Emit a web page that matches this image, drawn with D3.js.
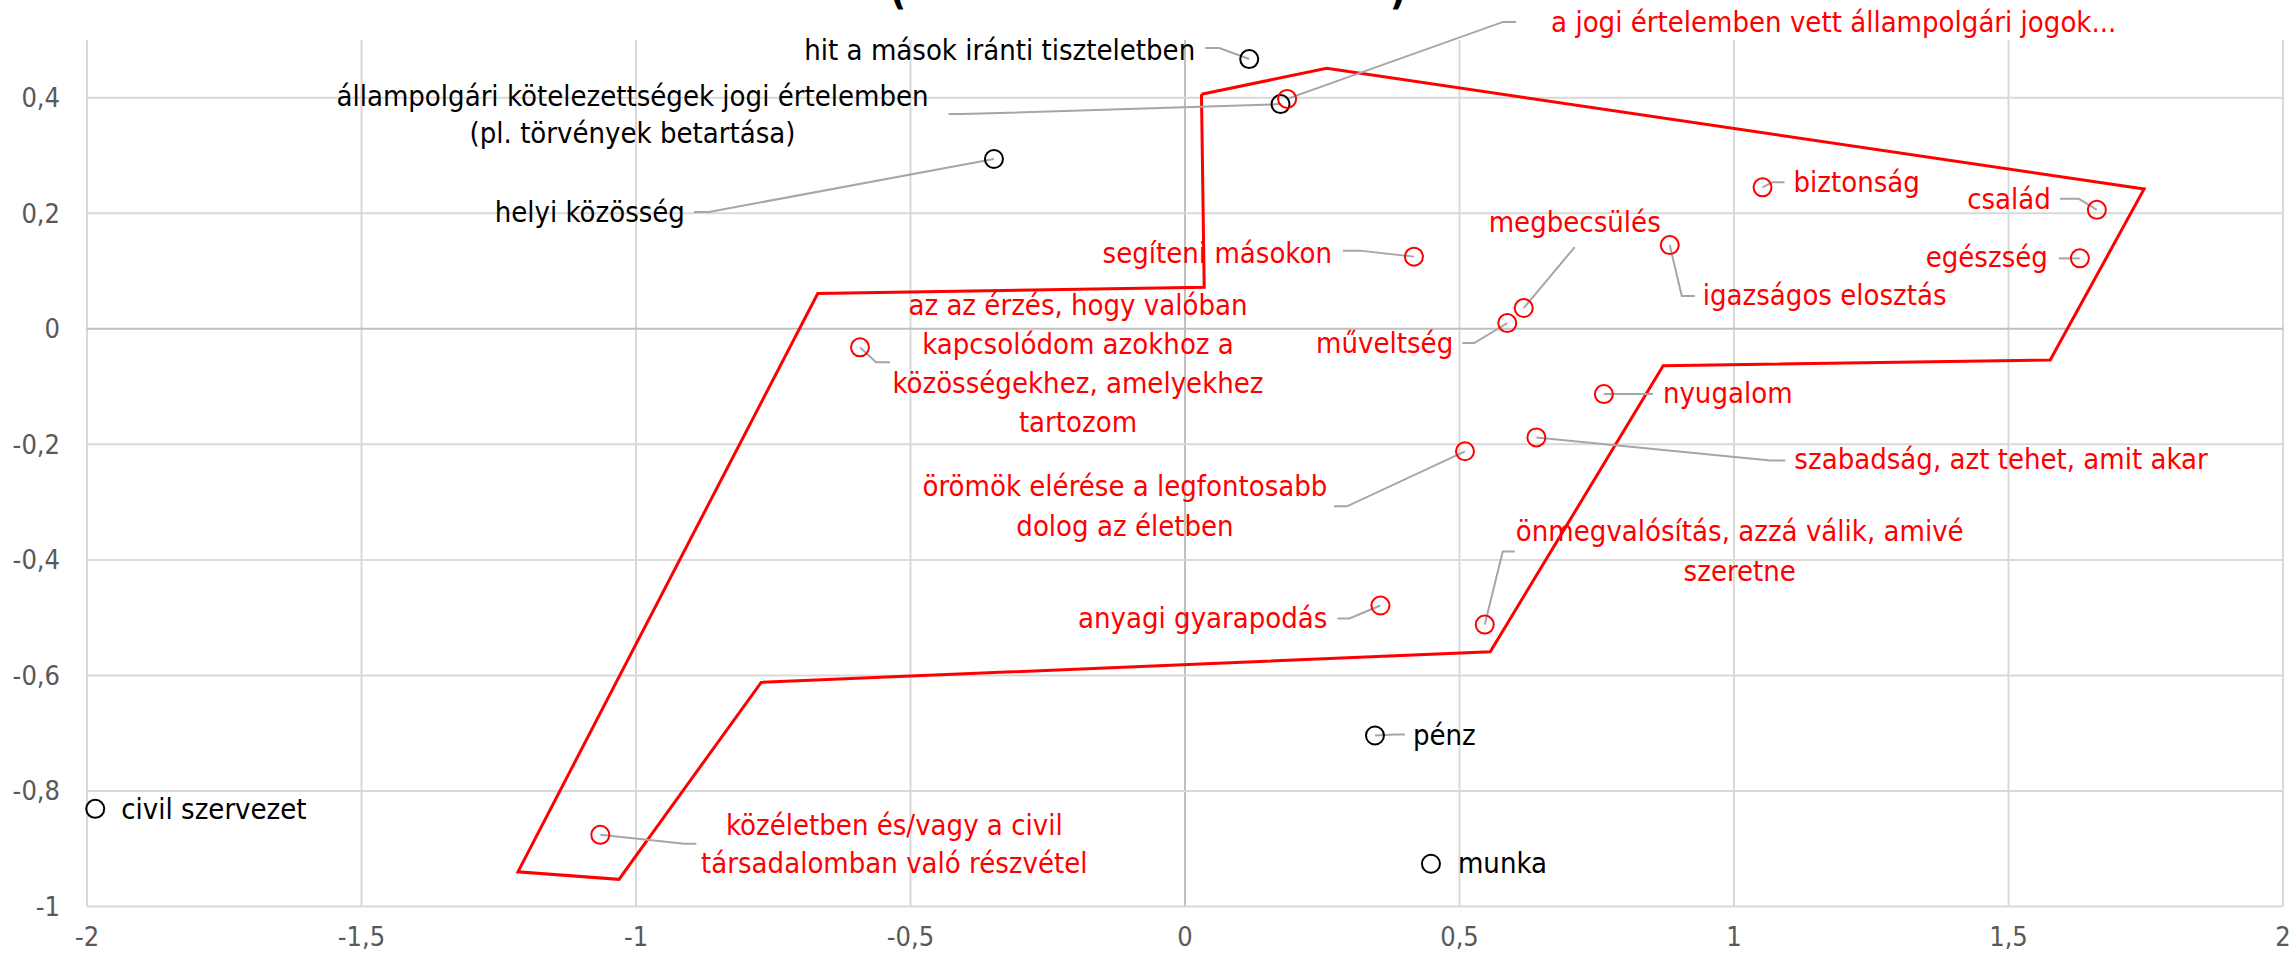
<!DOCTYPE html>
<html>
<head>
<meta charset="utf-8">
<script src="https://cdn.jsdelivr.net/npm/d3@7"></script>
<style>
  html, body { margin: 0; padding: 0; background: #fff; overflow: hidden; }
  svg text { font-family: "Liberation Sans Narrow", "Arial Narrow", "DejaVu Sans Condensed", sans-serif; }
</style>
</head>
<body>
<div id="chart"></div>
<script>
// black series (not in hull)
const blackNames = ["hit a mások iránti tiszteletben", "állampolgári kötelezettségek jogi értelemben\n(pl. törvények betartása)", "helyi közösség", "civil szervezet", "pénz", "munka"];
const blackX = [0.117, 0.174, -0.348, -1.985, 0.346, 0.448];
const blackY = [0.467, 0.389, 0.294, -0.831, -0.704, -0.926];

// red series
const redNames = ["a jogi értelemben vett állampolgári jogok...", "segíteni másokon", "megbecsülés", "műveltség", "igazságos elosztás", "biztonság", "család", "egészség",
  "az az érzés, hogy valóban\nkapcsolódom azokhoz a\nközösségekhez, amelyekhez\ntartozom",
  "nyugalom", "szabadság, azt tehet, amit akar", "örömök elérése a legfontosabb\ndolog az életben",
  "önmegvalósítás, azzá válik, amivé\nszeretne", "anyagi gyarapodás", "közéletben és/vagy a civil\ntársadalomban való részvétel"];
const redX = [0.186, 0.417, 0.617, 0.587, 0.883, 1.052, 1.661, 1.630, -0.592, 0.763, 0.640, 0.510, 0.546, 0.356, -1.065];
const redY = [0.398, 0.125, 0.036, 0.010, 0.145, 0.245, 0.206, 0.122, -0.032, -0.113, -0.188, -0.212, -0.512, -0.479, -0.876];

// outline drawn around the red group
const hullX = [0.030, 0.258, 1.747, 1.576, 0.871, 0.556, -0.772, -1.031, -1.215, -0.669, 0.035, 0.030];
const hullY = [0.406, 0.451, 0.242, -0.054, -0.064, -0.559, -0.612, -0.953, -0.940, 0.061, 0.072, 0.406];

const xTicks = [-2, -1.5, -1, -0.5, 0, 0.5, 1, 1.5, 2];
const yTicks = [-1, -0.8, -0.6, -0.4, -0.2, 0, 0.2, 0.4];

// label placement, pixel offsets from the point: text anchor, first baseline, leader path
const labelLayout = {
  "hit a mások iránti tiszteletben": { anchor: "end", dx: -54, dy: 1, leader: [[-44, -11], [-30, -11]] },
  "állampolgári kötelezettségek jogi értelemben\n(pl. törvények betartása)": { anchor: "middle", dx: -648, dy: 2, lh: 37, leader: [[-332, 10], [-318, 10]] },
  "helyi közösség": { anchor: "end", dx: -309, dy: 63, leader: [[-300, 53], [-285, 53]] },
  "civil szervezet": { anchor: "start", dx: 26, dy: 10 },
  "pénz": { anchor: "start", dx: 38, dy: 9, leader: [[30, -1], [20, -1]] },
  "munka": { anchor: "start", dx: 27, dy: 9 },
  "a jogi értelemben vett állampolgári jogok...": { anchor: "start", dx: 264, dy: -67, leader: [[229, -77], [216, -77]] },
  "segíteni másokon": { anchor: "end", dx: -82, dy: 6, leader: [[-71, -6], [-54, -6]] },
  "megbecsülés": { anchor: "middle", dx: 51, dy: -76, leader: [[51, -61]] },
  "műveltség": { anchor: "end", dx: -54, dy: 30, leader: [[-45, 20], [-33, 20]] },
  "igazságos elosztás": { anchor: "start", dx: 33, dy: 60, leader: [[25, 51], [12, 51]] },
  "biztonság": { anchor: "start", dx: 31, dy: 5, leader: [[22, -5], [10, -5]] },
  "család": { anchor: "end", dx: -46, dy: -1, leader: [[-37, -11], [-18, -11]] },
  "egészség": { anchor: "end", dx: -32, dy: 9, leader: [[-21, 0], [-6, 0]] },
  "az az érzés, hogy valóban\nkapcsolódom azokhoz a\nközösségekhez, amelyekhez\ntartozom": { anchor: "middle", dx: 218, dy: -32, lh: 39, leader: [[30, 15], [16, 15]] },
  "nyugalom": { anchor: "start", dx: 59, dy: 9, leader: [[49, 0], [36, 0]] },
  "szabadság, azt tehet, amit akar": { anchor: "start", dx: 258, dy: 32, leader: [[249, 23], [234, 23]] },
  "örömök elérése a legfontosabb\ndolog az életben": { anchor: "middle", dx: -340, dy: 45, lh: 40, leader: [[-131, 55], [-118, 55]] },
  "önmegvalósítás, azzá válik, amivé\nszeretne": { anchor: "middle", dx: 255, dy: -84, lh: 40, leader: [[30, -73], [18, -73]] },
  "anyagi gyarapodás": { anchor: "end", dx: -53, dy: 22, leader: [[-43, 13], [-31, 13]] },
  "közéletben és/vagy a civil\ntársadalomban való részvétel": { anchor: "middle", dx: 294, dy: 0, lh: 38, leader: [[96, 9], [84, 9]] }
};

const width = 2293, height = 956;
const svg = d3.select("#chart").append("svg")
  .attr("width", width)
  .attr("height", height);

const x = d3.scaleLinear().domain([-2, 2]).range([87, 2283]);
const y = d3.scaleLinear().domain([-1, 0.5]).range([906.5, 40]);

const fmt = d => String(d).replace(".", ",");

// gridlines
svg.append("g")
  .selectAll("line")
  .data(xTicks)
  .join("line")
  .attr("x1", d => x(d)).attr("x2", d => x(d))
  .attr("y1", y(0.5)).attr("y2", y(-1))
  .attr("stroke", d => d === 0 ? "#bfbfbf" : "#d9d9d9")
  .attr("stroke-width", 2);

svg.append("g")
  .selectAll("line")
  .data(yTicks)
  .join("line")
  .attr("x1", x(-2)).attr("x2", x(2))
  .attr("y1", d => y(d)).attr("y2", d => y(d))
  .attr("stroke", d => d === 0 ? "#bfbfbf" : "#d9d9d9")
  .attr("stroke-width", 2);

// tick labels
svg.append("g")
  .selectAll("text")
  .data(yTicks)
  .join("text")
  .attr("x", 60)
  .attr("y", d => y(d))
  .attr("dy", "0.35em")
  .attr("text-anchor", "end")
  .attr("fill", "#595959")
  .style("font-size", "27px")
  .text(fmt);

svg.append("g")
  .selectAll("text")
  .data(xTicks)
  .join("text")
  .attr("x", d => x(d))
  .attr("y", 946)
  .attr("text-anchor", "middle")
  .attr("fill", "#595959")
  .style("font-size", "27px")
  .text(fmt);

// title, cut off by the top edge
svg.append("text").attr("x", 898).attr("y", 4).attr("text-anchor", "middle")
  .style("font-size", "40px").style("font-weight", "bold").attr("fill", "#000").text("(");
svg.append("text").attr("x", 1398).attr("y", 4).attr("text-anchor", "middle")
  .style("font-size", "40px").style("font-weight", "bold").attr("fill", "#000").text(")");

// red outline
const hull = hullX.map((v, i) => [v, hullY[i]]);
svg.append("path")
  .datum(hull)
  .attr("fill", "none")
  .attr("stroke", "#ff0000")
  .attr("stroke-width", 3)
  .attr("stroke-linejoin", "miter")
  .attr("d", d3.line().x(d => x(d[0])).y(d => y(d[1])));

const points = blackNames.map((n, i) => ({ name: n, x: blackX[i], y: blackY[i], color: "#000000" }))
  .concat(redNames.map((n, i) => ({ name: n, x: redX[i], y: redY[i], color: "#ff0000" })));

// leader lines
svg.append("g")
  .selectAll("path")
  .data(points.filter(d => labelLayout[d.name].leader))
  .join("path")
  .attr("fill", "none")
  .attr("stroke", "#a6a6a6")
  .attr("stroke-width", 2)
  .attr("d", d => {
    const px = x(d.x), py = y(d.y);
    const pts = labelLayout[d.name].leader.map(o => [px + o[0], py + o[1]]);
    pts.push([px, py]);
    return d3.line()(pts);
  });

// markers
svg.append("g")
  .selectAll("circle")
  .data(points)
  .join("circle")
  .attr("cx", d => x(d.x))
  .attr("cy", d => y(d.y))
  .attr("r", 9)
  .attr("fill", "none")
  .attr("stroke", d => d.color)
  .attr("stroke-width", 2);

// data labels
const labels = svg.append("g")
  .selectAll("text")
  .data(points)
  .join("text")
  .attr("text-anchor", d => labelLayout[d.name].anchor)
  .attr("fill", d => d.color)
  .style("font-size", "29px");

labels.each(function (d) {
  const lay = labelLayout[d.name];
  const tx = x(d.x) + lay.dx;
  const ty = y(d.y) + lay.dy;
  d3.select(this).selectAll("tspan")
    .data(d.name.split("\n"))
    .join("tspan")
    .attr("x", tx)
    .attr("y", (s, i) => ty + i * (lay.lh || 38))
    .text(s => s);
});
</script>
</body>
</html>
